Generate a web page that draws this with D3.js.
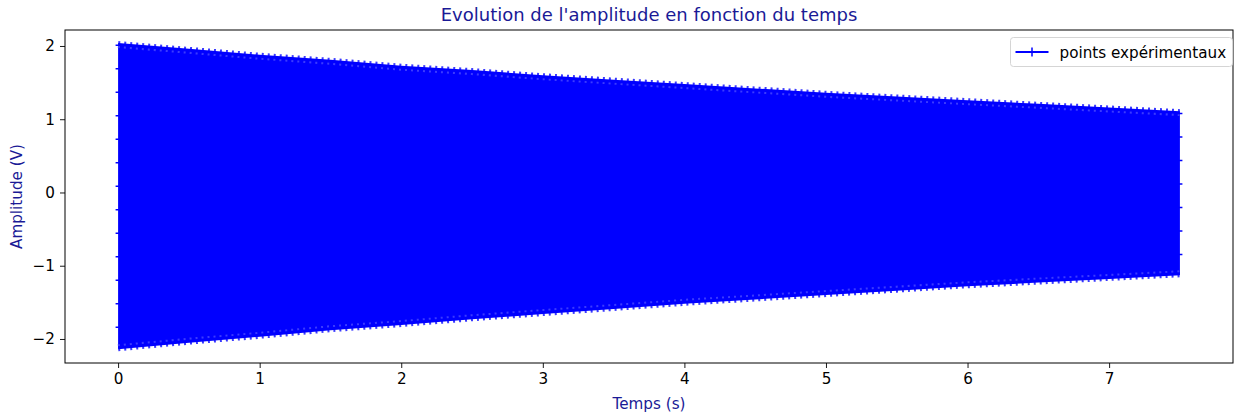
<!DOCTYPE html>
<html>
<head>
<meta charset="utf-8">
<script src="https://cdn.jsdelivr.net/npm/d3@7"></script>
<style>
  body { margin: 0; background: #fff; }
  text { font-family: "DejaVu Sans", sans-serif; }
</style>
</head>
<body>
<div id="chart"></div>
<script>
const times = [0, 0.5, 1, 1.5, 2, 2.5, 3, 3.5, 4, 4.5, 5, 5.5, 6, 6.5, 7, 7.5];
const upper = [2.02, 1.94, 1.86, 1.79, 1.71, 1.65, 1.58, 1.52, 1.46, 1.40, 1.34, 1.29, 1.24, 1.19, 1.14, 1.09];
const lower = [-2.12, -2.03, -1.95, -1.86, -1.79, -1.71, -1.64, -1.57, -1.50, -1.44, -1.38, -1.32, -1.26, -1.21, -1.16, -1.11];
const xTicks = [0, 1, 2, 3, 4, 5, 6, 7];
const yTicks = [-2, -1, 0, 1, 2];

const width = 1238, height = 414;
const margin = { top: 30, right: 5, bottom: 51, left: 65 };
const blue = "#0000ff";
const labelColor = "#1a1a96";
const fs = "15.2px";

const data = times.map((t, i) => ({ t: t, hi: upper[i], lo: lower[i] }));

const svg = d3.select("#chart")
  .append("svg")
  .attr("width", width)
  .attr("height", height);

const x = d3.scaleLinear()
  .domain([-0.375, 7.875])
  .range([margin.left, width - margin.right]);

const y = d3.scaleLinear()
  .domain([-2.328, 2.218])
  .range([height - margin.bottom, margin.top]);

// filled band of the dense oscillation
svg.append("path")
  .datum(data)
  .attr("fill", blue)
  .attr("d", d3.area()
    .x((d) => x(d.t))
    .y0((d) => y(d.lo))
    .y1((d) => y(d.hi)));

// serrated edges made by the + markers
const edge = (key) => d3.line().x((d) => x(d.t)).y((d) => y(d[key]));
["hi", "lo"].forEach((k) => {
  svg.append("path")
    .datum(data)
    .attr("fill", "none")
    .attr("stroke", "#3a3aff")
    .attr("stroke-width", 7)
    .attr("stroke-dasharray", "2,4")
    .attr("d", edge(k));
  svg.append("path")
    .datum(data)
    .attr("fill", "none")
    .attr("stroke", blue)
    .attr("stroke-width", 3)
    .attr("d", edge(k));
});

// a few markers sticking out on the start and end edges
[0, data.length - 1].forEach((i) => {
  svg.append("line")
    .attr("x1", x(data[i].t)).attr("x2", x(data[i].t))
    .attr("y1", y(data[i].hi)).attr("y2", y(data[i].lo))
    .attr("stroke", blue)
    .attr("stroke-width", 5)
    .attr("stroke-dasharray", "1.5,22");
});

// axes
const fmt = (d) => d < 0 ? "\u2212" + Math.abs(d) : String(d);

const xAxis = svg.append("g")
  .attr("transform", `translate(0,${height - margin.bottom})`)
  .call(d3.axisBottom(x).tickValues(xTicks).tickFormat(fmt).tickSize(5).tickPadding(5));

const yAxis = svg.append("g")
  .attr("transform", `translate(${margin.left},0)`)
  .call(d3.axisLeft(y).tickValues(yTicks).tickFormat(fmt).tickSize(5).tickPadding(5));

[xAxis, yAxis].forEach((g) => {
  g.select(".domain").remove();
  g.selectAll(".tick line").attr("stroke", "#000").attr("stroke-width", 0.9);
  g.selectAll(".tick text")
    .attr("fill", "#000")
    .style("font-size", fs)
    .style("font-family", "DejaVu Sans");
});

// frame
svg.append("rect")
  .attr("x", margin.left)
  .attr("y", margin.top)
  .attr("width", width - margin.left - margin.right)
  .attr("height", height - margin.top - margin.bottom)
  .attr("fill", "none")
  .attr("stroke", "#000")
  .attr("stroke-width", 1);

// title and labels
svg.append("text")
  .attr("x", (margin.left + width - margin.right) / 2)
  .attr("y", 21)
  .attr("text-anchor", "middle")
  .attr("fill", labelColor)
  .style("font-size", "18px")
  .text("Evolution de l'amplitude en fonction du temps");

svg.append("text")
  .attr("x", (margin.left + width - margin.right) / 2)
  .attr("y", 409)
  .attr("text-anchor", "middle")
  .attr("fill", labelColor)
  .style("font-size", fs)
  .text("Temps (s)");

svg.append("text")
  .attr("transform", `translate(22,${(margin.top + height - margin.bottom) / 2}) rotate(-90)`)
  .attr("text-anchor", "middle")
  .attr("fill", labelColor)
  .style("font-size", fs)
  .text("Amplitude (V)");

// legend
const legend = svg.append("g").attr("transform", "translate(1010.5,37.5)");
legend.append("rect")
  .attr("width", 222)
  .attr("height", 29)
  .attr("rx", 3)
  .attr("fill", "#fff")
  .attr("fill-opacity", 0.8)
  .attr("stroke", "#d5d5d5");
legend.append("line")
  .attr("x1", 5).attr("x2", 38)
  .attr("y1", 14.5).attr("y2", 14.5)
  .attr("stroke", blue)
  .attr("stroke-width", 1.8);
legend.append("line")
  .attr("x1", 21.5).attr("x2", 21.5)
  .attr("y1", 10).attr("y2", 19)
  .attr("stroke", blue)
  .attr("stroke-width", 1.5);
legend.append("text")
  .attr("x", 49)
  .attr("y", 20)
  .attr("fill", "#000")
  .style("font-size", fs)
  .text("points expérimentaux");
</script>
</body>
</html>
